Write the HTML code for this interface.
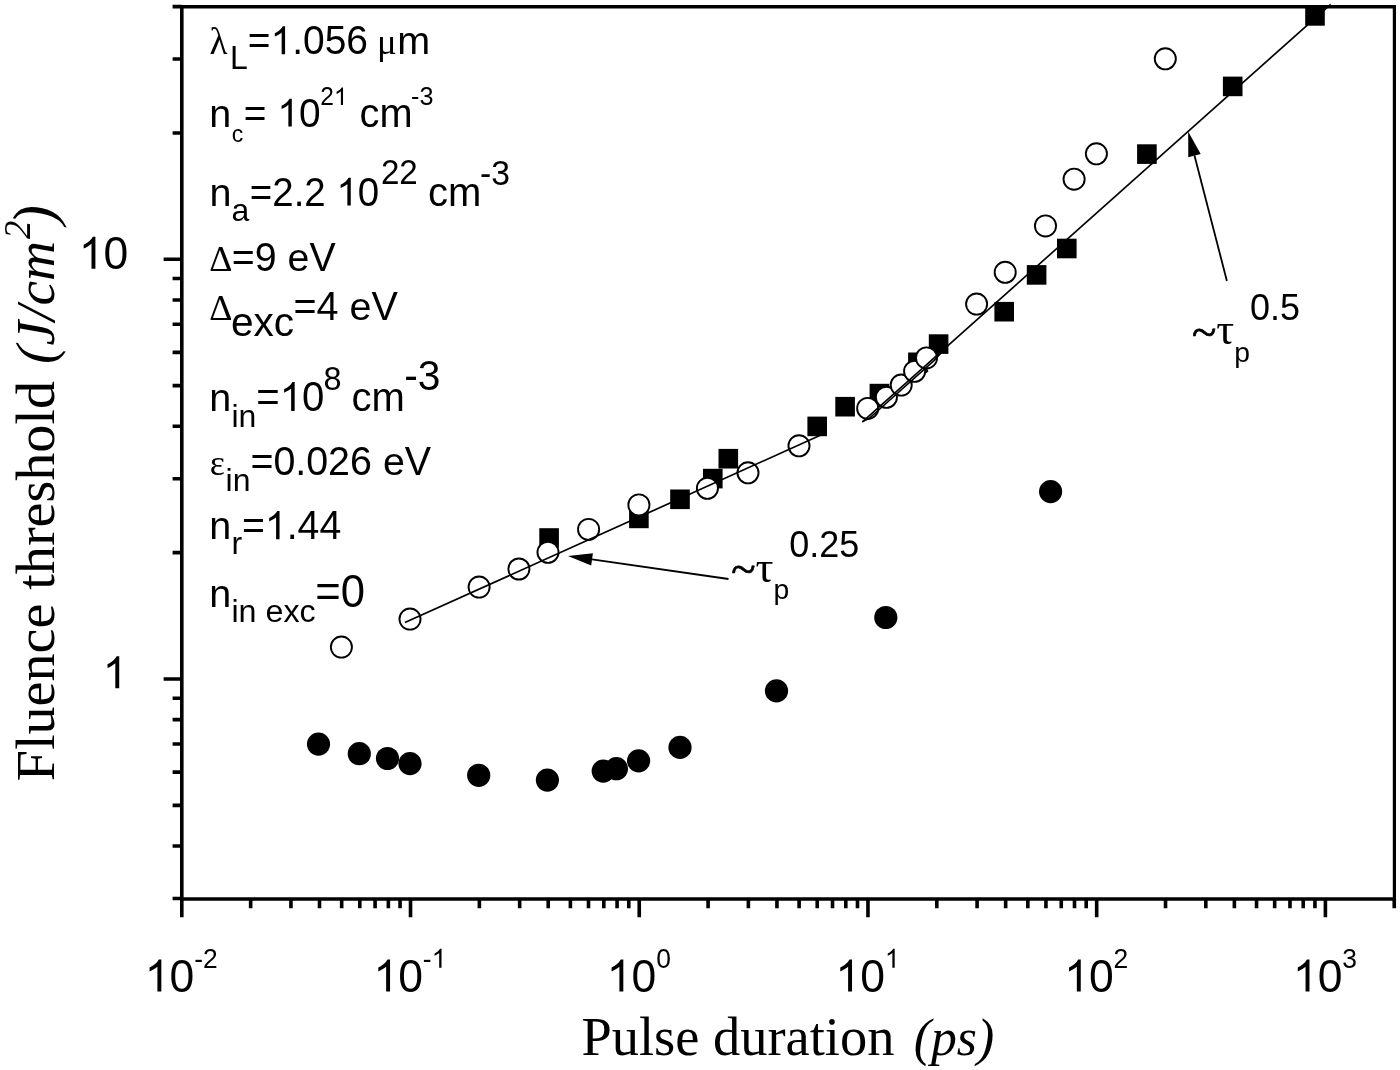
<!DOCTYPE html>
<html><head><meta charset="utf-8"><title>Fluence threshold vs pulse duration</title>
<style>html,body{margin:0;padding:0;background:#fff;}body{width:1400px;height:1070px;overflow:hidden;font-family:"Liberation Sans",sans-serif;}svg{display:block;will-change:transform;}text{fill:#000;}</style>
</head><body>
<svg width="1400" height="1070" viewBox="0 0 1400 1070">
<rect width="1400" height="1070" fill="#fff"/>
<defs><path id="g1" d="M763 0H583V-1147Q518 -1085 412.5 -1023Q307 -961 223 -930V-1104Q374 -1175 487 -1276Q600 -1377 647 -1472H763Z"/></defs>
<circle cx="318.5" cy="744.1" r="11.6" fill="#000"/>
<circle cx="359.3" cy="753.7" r="11.6" fill="#000"/>
<circle cx="387.5" cy="758.5" r="11.6" fill="#000"/>
<circle cx="410" cy="763.6" r="11.6" fill="#000"/>
<circle cx="478.7" cy="775.3" r="11.6" fill="#000"/>
<circle cx="547.4" cy="780.1" r="11.6" fill="#000"/>
<circle cx="603.2" cy="771.1" r="11.6" fill="#000"/>
<circle cx="616.4" cy="768.7" r="11.6" fill="#000"/>
<circle cx="638.6" cy="760.9" r="11.6" fill="#000"/>
<circle cx="680" cy="747.4" r="11.6" fill="#000"/>
<circle cx="776.5" cy="690.9" r="11.6" fill="#000"/>
<circle cx="885.8" cy="617.5" r="11.6" fill="#000"/>
<circle cx="1050.6" cy="491.6" r="11.6" fill="#000"/>
<rect x="539.30" y="528.20" width="19.6" height="19.6" fill="#000"/>
<rect x="629.10" y="508.60" width="19.6" height="19.6" fill="#000"/>
<rect x="670.20" y="489.50" width="19.6" height="19.6" fill="#000"/>
<rect x="703.00" y="468.80" width="19.6" height="19.6" fill="#000"/>
<rect x="718.50" y="448.90" width="19.6" height="19.6" fill="#000"/>
<rect x="807.40" y="416.60" width="19.6" height="19.6" fill="#000"/>
<rect x="835.30" y="396.90" width="19.6" height="19.6" fill="#000"/>
<rect x="869.60" y="383.80" width="19.6" height="19.6" fill="#000"/>
<rect x="908.10" y="352.50" width="19.6" height="19.6" fill="#000"/>
<rect x="928.80" y="334.30" width="19.6" height="19.6" fill="#000"/>
<rect x="994.40" y="301.90" width="19.6" height="19.6" fill="#000"/>
<rect x="1026.80" y="265.10" width="19.6" height="19.6" fill="#000"/>
<rect x="1057.00" y="238.70" width="19.6" height="19.6" fill="#000"/>
<rect x="1137.10" y="144.30" width="19.6" height="19.6" fill="#000"/>
<rect x="1222.90" y="76.60" width="19.6" height="19.6" fill="#000"/>
<rect x="1305.20" y="6.10" width="19.6" height="19.6" fill="#000"/>
<circle cx="341.4" cy="647.1" r="10.55" fill="#fff" stroke="#000" stroke-width="1.9"/>
<circle cx="410" cy="619.1" r="10.55" fill="#fff" stroke="#000" stroke-width="1.9"/>
<circle cx="479.1" cy="587.1" r="10.55" fill="#fff" stroke="#000" stroke-width="1.9"/>
<circle cx="518.9" cy="569.0" r="10.55" fill="#fff" stroke="#000" stroke-width="1.9"/>
<circle cx="548" cy="552.3" r="10.55" fill="#fff" stroke="#000" stroke-width="1.9"/>
<circle cx="588.6" cy="529.4" r="10.55" fill="#fff" stroke="#000" stroke-width="1.9"/>
<circle cx="638.9" cy="504.9" r="10.55" fill="#fff" stroke="#000" stroke-width="1.9"/>
<circle cx="707.4" cy="488.3" r="10.55" fill="#fff" stroke="#000" stroke-width="1.9"/>
<circle cx="748" cy="472.8" r="10.55" fill="#fff" stroke="#000" stroke-width="1.9"/>
<circle cx="799" cy="445.8" r="10.55" fill="#fff" stroke="#000" stroke-width="1.9"/>
<circle cx="867.7" cy="408.4" r="10.55" fill="#fff" stroke="#000" stroke-width="1.9"/>
<circle cx="886.4" cy="397.3" r="10.55" fill="#fff" stroke="#000" stroke-width="1.9"/>
<circle cx="901.2" cy="385.1" r="10.55" fill="#fff" stroke="#000" stroke-width="1.9"/>
<circle cx="914.6" cy="371.3" r="10.55" fill="#fff" stroke="#000" stroke-width="1.9"/>
<circle cx="926.5" cy="357.9" r="10.55" fill="#fff" stroke="#000" stroke-width="1.9"/>
<circle cx="976.6" cy="304.1" r="10.55" fill="#fff" stroke="#000" stroke-width="1.9"/>
<circle cx="1005.2" cy="272.3" r="10.55" fill="#fff" stroke="#000" stroke-width="1.9"/>
<circle cx="1045.5" cy="225.9" r="10.55" fill="#fff" stroke="#000" stroke-width="1.9"/>
<circle cx="1074.1" cy="179.2" r="10.55" fill="#fff" stroke="#000" stroke-width="1.9"/>
<circle cx="1096.4" cy="153.8" r="10.55" fill="#fff" stroke="#000" stroke-width="1.9"/>
<circle cx="1165.3" cy="58.8" r="10.55" fill="#fff" stroke="#000" stroke-width="1.9"/>
<line x1="404.9" y1="622.6" x2="822" y2="434.5" stroke="#000" stroke-width="1.7"/>
<line x1="862.4" y1="421.8" x2="1330.7" y2="4.3" stroke="#000" stroke-width="1.65"/>
<polyline points="862.1,421.9 869,418.5 934,360.6 948,345.6" fill="none" stroke="#000" stroke-width="1.5"/>
<line x1="925.6" y1="372.6" x2="928" y2="370.6" stroke="#000" stroke-width="1.7"/>
<line x1="728.5" y1="579" x2="592.05" y2="559.40" stroke="#000" stroke-width="1.8"/>
<polygon points="568.00,555.95 592.92,553.37 591.19,565.44" fill="#000"/>
<line x1="1226.9" y1="280.9" x2="1194.47" y2="155.60" stroke="#000" stroke-width="1.8"/>
<polygon points="1188.20,131.40 1200.66,154.00 1188.27,157.21" fill="#000"/>
<path d="M181.8,900.8V6.8H1396.0" fill="none" stroke="#000" stroke-width="3.6"/>
<path d="M180.0,899.0H1396.0" fill="none" stroke="#000" stroke-width="3.6"/>
<path d="M1394.4,6.8V899.0" fill="none" stroke="#000" stroke-width="3.2"/>
<path d="M181.80,899.0V917.20M250.65,899.0V908.20M290.93,899.0V908.20M319.50,899.0V908.20M341.67,899.0V908.20M359.78,899.0V908.20M375.09,899.0V908.20M388.35,899.0V908.20M400.05,899.0V908.20M410.52,899.0V917.20M479.37,899.0V908.20M519.65,899.0V908.20M548.22,899.0V908.20M570.39,899.0V908.20M588.50,899.0V908.20M603.81,899.0V908.20M617.07,899.0V908.20M628.77,899.0V908.20M639.24,899.0V917.20M708.09,899.0V908.20M748.37,899.0V908.20M776.94,899.0V908.20M799.11,899.0V908.20M817.22,899.0V908.20M832.53,899.0V908.20M845.79,899.0V908.20M857.49,899.0V908.20M867.96,899.0V917.20M936.81,899.0V908.20M977.09,899.0V908.20M1005.66,899.0V908.20M1027.83,899.0V908.20M1045.94,899.0V908.20M1061.25,899.0V908.20M1074.51,899.0V908.20M1086.21,899.0V908.20M1096.68,899.0V917.20M1165.53,899.0V908.20M1205.81,899.0V908.20M1234.38,899.0V908.20M1256.55,899.0V908.20M1274.66,899.0V908.20M1289.97,899.0V908.20M1303.23,899.0V908.20M1314.93,899.0V908.20M1325.40,899.0V917.20M1394.25,899.0V908.20M181.8,898.45H172.60M181.8,846.02H172.60M181.8,805.34H172.60M181.8,772.11H172.60M181.8,744.01H172.60M181.8,719.67H172.60M181.8,698.20H172.60M181.8,679.00H163.60M181.8,552.66H172.60M181.8,478.75H172.60M181.8,426.32H172.60M181.8,385.64H172.60M181.8,352.41H172.60M181.8,324.31H172.60M181.8,299.97H172.60M181.8,278.50H172.60M181.8,259.30H163.60M181.8,132.96H172.60M181.8,59.05H172.60M181.8,6.62H172.60" stroke="#000" stroke-width="3.6" fill="none"/>
<text x="209.56" y="54.20" font-family="'Liberation Serif', serif" font-size="37.17" xml:space="preserve">λ</text>
<text transform="translate(230.04,69.10) scale(1,1.04)" font-family="'Liberation Sans', sans-serif" font-size="32.00">L</text>
<text transform="translate(247.84,54.20) scale(1,1.04)" font-family="'Liberation Sans', sans-serif" font-size="38.93">=</text>
<use href="#g1" transform="translate(270.58,54.20) scale(0.01901)"/>
<text transform="translate(292.23,54.20) scale(1,1.04)" font-family="'Liberation Sans', sans-serif" font-size="38.93">.056</text>
<text x="377.07" y="54.20" font-family="'Liberation Serif', serif" font-size="36.67" xml:space="preserve">μ</text>
<text x="397.33" y="54.20" font-family="'Liberation Sans', sans-serif" font-size="39.50">m</text>
<text x="209.33" y="126.60" font-family="'Liberation Sans', sans-serif" font-size="39.50">n</text>
<text x="231.68" y="142.00" font-family="'Liberation Sans', sans-serif" font-size="23.00">c</text>
<text transform="translate(243.85,126.60) scale(1,1.04)" font-family="'Liberation Sans', sans-serif" font-size="38.83">=</text>
<use href="#g1" transform="translate(277.31,126.60) scale(0.01896)"/>
<text transform="translate(298.91,126.60) scale(1,1.04)" font-family="'Liberation Sans', sans-serif" font-size="38.83">0</text>
<text transform="translate(320.27,105.00) scale(1,1.04)" font-family="'Liberation Sans', sans-serif" font-size="24.50">2</text>
<use href="#g1" transform="translate(333.90,105.00) scale(0.01196)"/>
<text x="359.51" y="126.60" font-family="'Liberation Sans', sans-serif" font-size="39.76">cm</text>
<text transform="translate(410.99,105.30) scale(1,1.04)" font-family="'Liberation Sans', sans-serif" font-size="25.22">-3</text>
<text x="209.53" y="205.50" font-family="'Liberation Sans', sans-serif" font-size="39.50">n</text>
<text x="231.42" y="221.00" font-family="'Liberation Sans', sans-serif" font-size="32.00">a</text>
<text transform="translate(249.86,205.50) scale(1,1.04)" font-family="'Liberation Sans', sans-serif" font-size="38.44">=2.2</text>
<use href="#g1" transform="translate(336.43,205.50) scale(0.01877)"/>
<text transform="translate(357.81,205.50) scale(1,1.04)" font-family="'Liberation Sans', sans-serif" font-size="38.44">0</text>
<text transform="translate(380.94,184.30) scale(1,1.04)" font-family="'Liberation Sans', sans-serif" font-size="33.16">22</text>
<text x="428.10" y="205.50" font-family="'Liberation Sans', sans-serif" font-size="40.00">cm</text>
<text transform="translate(480.05,184.50) scale(1,1.04)" font-family="'Liberation Sans', sans-serif" font-size="33.70">-3</text>
<text x="209.22" y="270.80" font-family="'Liberation Serif', serif" font-size="36.03" xml:space="preserve">Δ</text>
<text transform="translate(231.83,270.80) scale(1,1.04)" font-family="'Liberation Sans', sans-serif" font-size="39.32">=9</text>
<text x="287.58" y="270.80" font-family="'Liberation Sans', sans-serif" font-size="39.32">e</text>
<text transform="translate(309.45,270.80) scale(1,1.04)" font-family="'Liberation Sans', sans-serif" font-size="39.32">V</text>
<text x="209.22" y="319.60" font-family="'Liberation Serif', serif" font-size="36.03" xml:space="preserve">Δ</text>
<text x="230.97" y="335.60" font-family="'Liberation Sans', sans-serif" font-size="40.64">exc</text>
<text transform="translate(293.52,319.60) scale(1,1.04)" font-family="'Liberation Sans', sans-serif" font-size="39.51">=4</text>
<text x="349.55" y="319.60" font-family="'Liberation Sans', sans-serif" font-size="39.51">e</text>
<text transform="translate(371.53,319.60) scale(1,1.04)" font-family="'Liberation Sans', sans-serif" font-size="39.51">V</text>
<text x="209.13" y="410.90" font-family="'Liberation Sans', sans-serif" font-size="39.50">n</text>
<text x="231.48" y="426.50" font-family="'Liberation Sans', sans-serif" font-size="32.00">in</text>
<text transform="translate(256.30,410.90) scale(1,1.04)" font-family="'Liberation Sans', sans-serif" font-size="40.12">=</text>
<use href="#g1" transform="translate(279.72,410.90) scale(0.01959)"/>
<text transform="translate(302.04,410.90) scale(1,1.04)" font-family="'Liberation Sans', sans-serif" font-size="40.12">0</text>
<text transform="translate(323.60,389.50) scale(1,1.04)" font-family="'Liberation Sans', sans-serif" font-size="32.40">8</text>
<text x="351.60" y="410.90" font-family="'Liberation Sans', sans-serif" font-size="40.00">cm</text>
<text transform="translate(404.27,389.80) scale(1,1.04)" font-family="'Liberation Sans', sans-serif" font-size="40.84">-3</text>
<text x="209.72" y="474.80" font-family="'Liberation Serif', serif" font-size="35.95" xml:space="preserve">ε</text>
<text x="225.58" y="491.10" font-family="'Liberation Sans', sans-serif" font-size="32.00">in</text>
<text transform="translate(250.42,475.00) scale(1,1.04)" font-family="'Liberation Sans', sans-serif" font-size="39.38">=0.026</text>
<text x="382.91" y="475.00" font-family="'Liberation Sans', sans-serif" font-size="39.38">e</text>
<text transform="translate(404.81,475.00) scale(1,1.04)" font-family="'Liberation Sans', sans-serif" font-size="39.38">V</text>
<text x="209.13" y="539.20" font-family="'Liberation Sans', sans-serif" font-size="39.50">n</text>
<text x="231.48" y="554.10" font-family="'Liberation Sans', sans-serif" font-size="32.00">r</text>
<text transform="translate(242.03,539.20) scale(1,1.04)" font-family="'Liberation Sans', sans-serif" font-size="39.20">=</text>
<use href="#g1" transform="translate(264.93,539.20) scale(0.01914)"/>
<text transform="translate(286.73,539.20) scale(1,1.04)" font-family="'Liberation Sans', sans-serif" font-size="39.20">.44</text>
<text x="209.13" y="607.00" font-family="'Liberation Sans', sans-serif" font-size="39.50">n</text>
<text x="231.46" y="622.40" font-family="'Liberation Sans', sans-serif" font-size="32.26">in</text>
<text x="265.54" y="622.40" font-family="'Liberation Sans', sans-serif" font-size="32.26">exc</text>
<text transform="translate(315.26,607.00) scale(1,1.04)" font-family="'Liberation Sans', sans-serif" font-size="43.61">=0</text>
<text x="1191.90" y="346.90" font-family="'Liberation Serif', serif" font-size="45.00" stroke="#000" stroke-width="0.7" xml:space="preserve">~</text>
<text x="1216.31" y="344.30" font-family="'Liberation Serif', serif" font-size="44.72" xml:space="preserve">τ</text>
<text x="1234.20" y="361.80" font-family="'Liberation Sans', sans-serif" font-size="28.30">p</text>
<text transform="translate(1249.92,319.50) scale(1,1.04)" font-family="'Liberation Sans', sans-serif" font-size="36.00">0.5</text>
<text x="731.20" y="584.10" font-family="'Liberation Serif', serif" font-size="45.00" stroke="#000" stroke-width="0.7" xml:space="preserve">~</text>
<text x="755.61" y="581.50" font-family="'Liberation Serif', serif" font-size="44.72" xml:space="preserve">τ</text>
<text x="773.50" y="599.00" font-family="'Liberation Sans', sans-serif" font-size="28.30">p</text>
<text transform="translate(789.22,556.70) scale(1,1.04)" font-family="'Liberation Sans', sans-serif" font-size="36.00">0.25</text>
<use href="#g1" transform="translate(78.83,268.70) scale(0.02173)"/>
<text transform="translate(103.58,268.70) scale(1,1.04)" font-family="'Liberation Sans', sans-serif" font-size="44.50">0</text>
<use href="#g1" transform="translate(102.65,688.20) scale(0.02173)"/>
<use href="#g1" transform="translate(144.75,991.60) scale(0.02173)"/>
<text transform="translate(169.50,991.60) scale(1,1.04)" font-family="'Liberation Sans', sans-serif" font-size="44.50">0</text>
<text transform="translate(194.15,967.70) scale(1,1.04)" font-family="'Liberation Sans', sans-serif" font-size="26.40">-2</text>
<use href="#g1" transform="translate(373.47,991.60) scale(0.02173)"/>
<text transform="translate(398.22,991.60) scale(1,1.04)" font-family="'Liberation Sans', sans-serif" font-size="44.50">0</text>
<text transform="translate(422.87,967.70) scale(1,1.04)" font-family="'Liberation Sans', sans-serif" font-size="26.40">-</text>
<use href="#g1" transform="translate(431.67,967.70) scale(0.01289)"/>
<use href="#g1" transform="translate(606.73,991.60) scale(0.02173)"/>
<text transform="translate(631.48,991.60) scale(1,1.04)" font-family="'Liberation Sans', sans-serif" font-size="44.50">0</text>
<text transform="translate(656.13,967.70) scale(1,1.04)" font-family="'Liberation Sans', sans-serif" font-size="26.40">0</text>
<use href="#g1" transform="translate(835.45,991.60) scale(0.02173)"/>
<text transform="translate(860.20,991.60) scale(1,1.04)" font-family="'Liberation Sans', sans-serif" font-size="44.50">0</text>
<use href="#g1" transform="translate(884.85,967.70) scale(0.01289)"/>
<use href="#g1" transform="translate(1064.17,991.60) scale(0.02173)"/>
<text transform="translate(1088.92,991.60) scale(1,1.04)" font-family="'Liberation Sans', sans-serif" font-size="44.50">0</text>
<text transform="translate(1113.57,967.70) scale(1,1.04)" font-family="'Liberation Sans', sans-serif" font-size="26.40">2</text>
<use href="#g1" transform="translate(1292.89,991.60) scale(0.02173)"/>
<text transform="translate(1317.64,991.60) scale(1,1.04)" font-family="'Liberation Sans', sans-serif" font-size="44.50">0</text>
<text transform="translate(1342.29,967.70) scale(1,1.04)" font-family="'Liberation Sans', sans-serif" font-size="26.40">3</text>
<text x="581.51" y="1054.90" font-family="'Liberation Serif', serif" font-size="54.43" xml:space="preserve">Pulse duration</text>
<text x="913.75" y="1054.90" font-family="'Liberation Serif', serif" font-size="51.73" font-style="italic" xml:space="preserve">(ps)</text>
<text transform="translate(54.40,781.22) rotate(-90) scale(1,0.97)" font-family="'Liberation Serif', serif" font-size="56.08">Fluence threshold</text>
<text transform="translate(54.40,363.96) rotate(-90)" font-family="'Liberation Serif', serif" font-size="55.41" font-style="italic">(J/cm</text>
<text transform="translate(29.90,238.90) rotate(-90)" font-family="'Liberation Serif', serif" font-size="36.88" font-style="italic">2</text>
<text transform="translate(54.40,224.77) rotate(-90)" font-family="'Liberation Serif', serif" font-size="58.61" font-style="italic">)</text>
</svg>
</body></html>
